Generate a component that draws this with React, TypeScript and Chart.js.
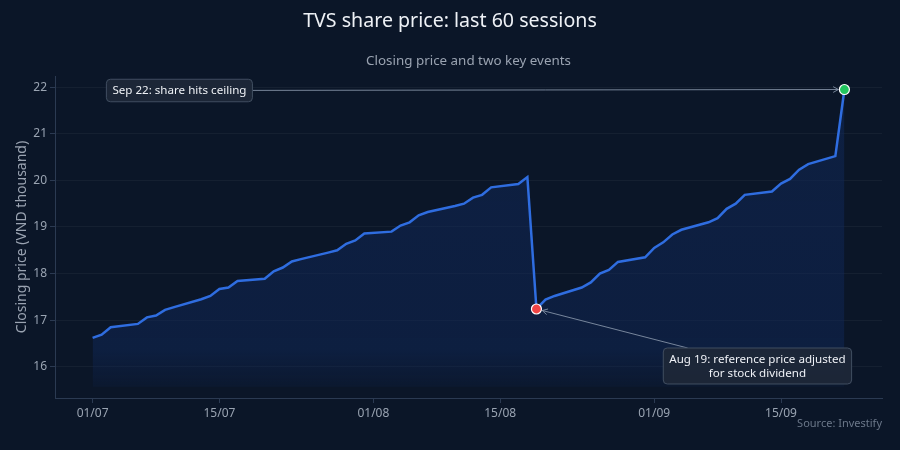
import { useEffect, useRef } from "react";
import { Chart, registerables, type Plugin } from "chart.js";

Chart.register(...registerables);

// trading sessions (DD/MM), closing price in VND thousand
const sessionDates = [
  "01/07", "02/07", "03/07", "06/07", "07/07", "08/07", "09/07", "10/07", "13/07", "14/07",
  "15/07", "16/07", "17/07", "20/07", "21/07", "22/07", "23/07", "24/07", "27/07", "28/07",
  "29/07", "30/07", "31/07",
  "03/08", "04/08", "05/08", "06/08", "07/08", "10/08", "11/08", "12/08", "13/08", "14/08",
  "17/08", "18/08", "19/08", "20/08", "21/08", "24/08", "25/08", "26/08", "27/08", "28/08",
  "31/08",
  "01/09", "02/09", "03/09", "04/09", "07/09", "08/09", "09/09", "10/09", "11/09", "14/09",
  "15/09", "16/09", "17/09", "18/09", "21/09", "22/09",
];
const closes = [
  16.62, 16.69, 16.85, 16.92, 17.06, 17.1, 17.22, 17.28, 17.45, 17.52,
  17.67, 17.7, 17.84, 17.89, 18.05, 18.13, 18.26, 18.31, 18.45, 18.5,
  18.64, 18.71, 18.86,
  18.9, 19.03, 19.1, 19.25, 19.32, 19.45, 19.5, 19.63, 19.69, 19.85,
  19.92, 20.07, 17.24, 17.44, 17.52, 17.7, 17.81, 18.0, 18.08, 18.25,
  18.35,
  18.55, 18.67, 18.84, 18.94, 19.1, 19.19, 19.39, 19.5, 19.69, 19.76,
  19.93, 20.03, 20.23, 20.35, 20.52, 21.95,
];
const tickLabels = ["01/07", "15/07", "01/08", "15/08", "01/09", "15/09"];
const yTicks = [16, 17, 18, 19, 20, 21, 22];

const eventDates = ["19/08", "22/09"];
const eventTexts = [
  ["Aug 19: reference price adjusted", "for stock dividend"],
  ["Sep 22: share hits ceiling"],
];
const eventColors = ["#ef4444", "#22c55e"];
// label box centre offset from the marker, in px
const eventOffsets = [
  [221, 57],
  [-665, 1],
];

const MONTH_START: Record<string, number> = { "07": 0, "08": 31, "09": 62 };
const dayOf = (d: string) => MONTH_START[d.slice(3, 5)] + Number(d.slice(0, 2)) - 1;

const BG = "#0b1628";
const FONT = "'Noto Sans', 'Open Sans', sans-serif";

const overlay: Plugin<"line"> = {
  id: "overlay",
  afterDraw(chart) {
    const { ctx, chartArea } = chart;
    const xs = chart.scales.x;
    const ys = chart.scales.y;
    ctx.save();

    ctx.textAlign = "center";
    ctx.textBaseline = "middle";
    ctx.fillStyle = "#eef1f6";
    ctx.font = `19.6px ${FONT}`;
    ctx.fillText("TVS share price: last 60 sessions", 450, 21);
    ctx.fillStyle = "#9aa3b1";
    ctx.font = `13.4px ${FONT}`;
    ctx.fillText("Closing price and two key events", (chartArea.left + chartArea.right) / 2, 61);

    ctx.save();
    ctx.translate(22, (chartArea.top + chartArea.bottom) / 2);
    ctx.rotate(-Math.PI / 2);
    ctx.fillStyle = "#9aa3b1";
    ctx.font = `14px ${FONT}`;
    ctx.fillText("Closing price (VND thousand)", 0, 0);
    ctx.restore();

    ctx.textAlign = "right";
    ctx.fillStyle = "#6b7789";
    ctx.font = `11px ${FONT}`;
    ctx.fillText("Source: Investify", chartArea.right, 424);

    eventDates.forEach((d, i) => {
      const idx = sessionDates.indexOf(d);
      const px = xs.getPixelForValue(dayOf(d));
      const py = ys.getPixelForValue(closes[idx]);
      const cx = px + eventOffsets[i][0];
      const cy = py + eventOffsets[i][1];
      const lines = eventTexts[i];
      ctx.font = `11.6px ${FONT}`;
      const tw = Math.max(...lines.map((l) => ctx.measureText(l).width));
      const lh = 13.5;
      const w = tw + 12;
      const h = lines.length * lh + 9;

      // arrow from box edge to marker
      const dx = px - cx;
      const dy = py - cy;
      const t = Math.min(dx ? w / 2 / Math.abs(dx) : Infinity, dy ? h / 2 / Math.abs(dy) : Infinity);
      const sx = cx + dx * t;
      const sy = cy + dy * t;
      const len = Math.hypot(dx, dy);
      const ux = dx / len;
      const uy = dy / len;
      const ex = px - ux * 6;
      const ey = py - uy * 6;
      ctx.strokeStyle = "rgba(138,152,172,0.85)";
      ctx.lineWidth = 1;
      ctx.beginPath();
      ctx.moveTo(sx, sy);
      ctx.lineTo(ex, ey);
      const a = Math.atan2(uy, ux);
      ctx.moveTo(ex - 6 * Math.cos(a - 0.5), ey - 6 * Math.sin(a - 0.5));
      ctx.lineTo(ex, ey);
      ctx.lineTo(ex - 6 * Math.cos(a + 0.5), ey - 6 * Math.sin(a + 0.5));
      ctx.stroke();

      ctx.beginPath();
      ctx.roundRect(cx - w / 2, cy - h / 2, w, h, 4);
      ctx.fillStyle = "rgba(30,40,56,0.92)";
      ctx.fill();
      ctx.strokeStyle = "#414e61";
      ctx.stroke();

      ctx.fillStyle = "#eef1f6";
      ctx.textAlign = "center";
      lines.forEach((l, j) => {
        ctx.fillText(l, cx, cy - ((lines.length - 1) * lh) / 2 + j * lh + 0.5);
      });
    });
    ctx.restore();
  },
};

export default function App() {
  const ref = useRef<HTMLCanvasElement>(null);

  useEffect(() => {
    document.body.style.margin = "0";
    document.body.style.background = BG;
    if (!ref.current) return;

    const chart = new Chart(ref.current, {
      type: "line",
      data: {
        datasets: [
          {
            data: sessionDates.map((d, i) => ({ x: dayOf(d), y: closes[i] })),
            order: 2,
            borderColor: "#2f6de0",
            borderWidth: 2.5,
            pointRadius: 0,
            tension: 0,
            fill: { value: 15.57 },
            backgroundColor: (c) => {
              const area = c.chart.chartArea;
              if (!area) return "rgba(20,50,110,0.3)";
              const g = c.chart.ctx.createLinearGradient(0, area.top, 0, area.bottom);
              g.addColorStop(0, "rgba(16,40,88,0.55)");
              g.addColorStop(0.85, "rgba(16,40,88,0.5)");
              g.addColorStop(0.97, "rgba(16,40,88,0.15)");
              g.addColorStop(1, "rgba(16,40,88,0)");
              return g;
            },
          },
          {
            data: eventDates.map((d) => ({ x: dayOf(d), y: closes[sessionDates.indexOf(d)] })),
            order: 1,
            showLine: false,
            pointRadius: 5,
            pointBackgroundColor: eventColors,
            pointBorderColor: "#ffffff",
            pointBorderWidth: 1.2,
            fill: false,
          },
        ],
      },
      options: {
        responsive: true,
        maintainAspectRatio: false,
        animation: false,
        layout: { padding: { top: 76, right: 18, left: 0, bottom: 0 } },
        plugins: { legend: { display: false }, tooltip: { enabled: false }, title: { display: false } },
        scales: {
          x: {
            type: "linear",
            min: -4.15,
            max: 87.15,
            afterFit: (s) => {
              s.height = 52;
            },
            afterBuildTicks: (s) => {
              s.ticks = tickLabels.map((l) => ({ value: dayOf(l) }));
            },
            ticks: {
              color: "#9aa4b2",
              font: { family: FONT, size: 12 },
              padding: 3,
              maxRotation: 0,
              callback: (v) => tickLabels[tickLabels.map(dayOf).indexOf(Number(v))] ?? "",
            },
            grid: { drawOnChartArea: false, tickLength: 5, tickColor: "#2b3a52" },
            border: { color: "#2b3a52" },
          },
          y: {
            min: 15.33,
            max: 22.24,
            afterFit: (s) => {
              s.width = 55;
            },
            afterBuildTicks: (s) => {
              s.ticks = yTicks.map((v) => ({ value: v }));
            },
            ticks: {
              color: "#9aa4b2",
              font: { family: FONT, size: 12 },
              padding: 3,
            },
            grid: { color: "rgba(255,255,255,0.045)", tickLength: 5, tickColor: "#2b3a52" },
            border: { color: "#2b3a52" },
          },
        },
      },
      plugins: [overlay],
    });
    return () => chart.destroy();
  }, []);

  return (
    <div style={{ width: 900, height: 450, background: BG }}>
      <canvas ref={ref} />
    </div>
  );
}
